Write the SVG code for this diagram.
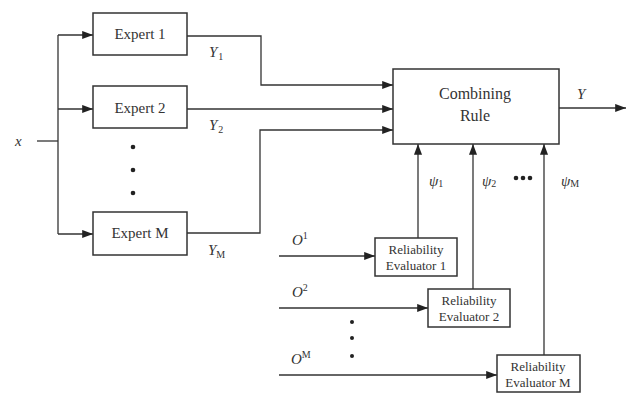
<svg xmlns="http://www.w3.org/2000/svg" width="629" height="393" viewBox="0 0 629 393">
<defs>
<marker id="ah" viewBox="0 0 12 10" refX="12" refY="5" markerWidth="12" markerHeight="9" markerUnits="userSpaceOnUse" orient="auto">
<path d="M0,0.5 L12,5 L0,9.5 Z" fill="#222"/>
</marker>
<style>
.box{fill:#fff;stroke:#333;stroke-width:1.5}
.ln{fill:none;stroke:#333;stroke-width:1.3}
text{font-family:'Liberation Serif','Times New Roman',Times,serif;fill:#333}
.t{text-anchor:middle}
.lab{font-style:italic;font-size:15px}
.sub{font-style:normal;font-size:10px}
</style>
</defs>
<rect width="629" height="393" fill="#fff"/>
<g id="connectors">
<path class="ln" d="M37,141 H58"/>
<path class="ln" d="M58,35 V234"/>
<path class="ln" d="M58,35 H93" marker-end="url(#ah)"/>
<path class="ln" d="M58,109 H93" marker-end="url(#ah)"/>
<path class="ln" d="M58,234 H93" marker-end="url(#ah)"/>
<path class="ln" d="M187,36 H261 V85 H393" marker-end="url(#ah)"/>
<path class="ln" d="M187,109 H393" marker-end="url(#ah)"/>
<path class="ln" d="M187,233 H260 V130 H393" marker-end="url(#ah)"/>
<path class="ln" d="M559,108 H626" marker-end="url(#ah)"/>
<path class="ln" d="M418,238 V144" marker-end="url(#ah)"/>
<path class="ln" d="M473,289 V144" marker-end="url(#ah)"/>
<path class="ln" d="M544,355 V144" marker-end="url(#ah)"/>
<path class="ln" d="M279,256 H375" marker-end="url(#ah)"/>
<path class="ln" d="M279,308 H428" marker-end="url(#ah)"/>
<path class="ln" d="M279,375 H497" marker-end="url(#ah)"/>
</g>
<g id="expert1"><rect class="box" x="93" y="13" width="94" height="42"/><text class="t" x="140" y="39" font-size="15">Expert 1</text></g>
<g id="expert2"><rect class="box" x="93" y="86" width="94" height="42"/><text class="t" x="140" y="113" font-size="15">Expert 2</text></g>
<g id="expertM"><rect class="box" x="93" y="212" width="94" height="43"/><text class="t" x="140" y="238" font-size="15">Expert M</text></g>
<g id="combiner"><rect class="box" x="393" y="69" width="166" height="75"/><text class="t" x="475" y="99" font-size="16">Combining</text><text class="t" x="475" y="121" font-size="16">Rule</text></g>
<g id="eval1"><rect class="box" x="375" y="238" width="82" height="38"/><text class="t" x="416" y="254" font-size="13">Reliability</text><text class="t" x="416" y="270" font-size="13">Evaluator 1</text></g>
<g id="eval2"><rect class="box" x="428" y="289" width="82" height="38"/><text class="t" x="469" y="305" font-size="13">Reliability</text><text class="t" x="469" y="321" font-size="13">Evaluator 2</text></g>
<g id="evalM"><rect class="box" x="497" y="355" width="83" height="37"/><text class="t" x="538" y="371" font-size="13">Reliability</text><text class="t" x="538" y="387" font-size="13">Evaluator M</text></g>
<g id="labels">
<text class="lab" x="15" y="146">x</text>
<text class="lab" x="209" y="57">Y<tspan class="sub" dx="1" dy="3">1</tspan></text>
<text class="lab" x="209" y="130">Y<tspan class="sub" dx="1" dy="3">2</tspan></text>
<text class="lab" x="208" y="255">Y<tspan class="sub" dx="0" dy="3">M</tspan></text>
<text class="lab" x="577" y="99">Y</text>
<text class="lab" x="429" y="186">ψ<tspan class="sub" dy="1">1</tspan></text>
<text class="lab" x="482" y="186">ψ<tspan class="sub" dy="1">2</tspan></text>
<text class="lab" x="561" y="186">ψ<tspan class="sub" dy="1">M</tspan></text>
<text class="lab" x="292" y="245">O<tspan class="sub" dy="-6">1</tspan></text>
<text class="lab" x="292" y="297">O<tspan class="sub" dy="-6">2</tspan></text>
<text class="lab" x="291" y="364">O<tspan class="sub" dy="-6">M</tspan></text>
</g>
<g id="dots" fill="#222">
<circle cx="133" cy="147" r="2.3"/><circle cx="133" cy="170" r="2.3"/><circle cx="133" cy="193" r="2.3"/>
<circle cx="352" cy="322" r="2"/><circle cx="352" cy="338" r="2"/><circle cx="352" cy="356" r="2"/>
<circle cx="516" cy="178" r="2.3"/><circle cx="523" cy="178" r="2.3"/><circle cx="530" cy="178" r="2.3"/>
</g>
</svg>
